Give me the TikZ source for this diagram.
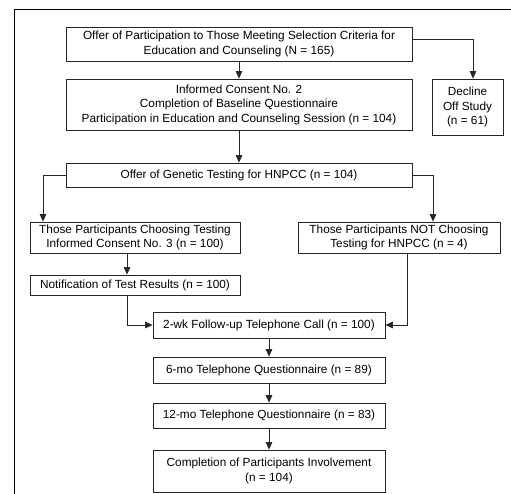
\documentclass[tikz,border=0pt]{standalone}
\usepackage{fontspec}
\setmainfont{Liberation Sans}
\usetikzlibrary{arrows.meta}
\begin{document}
\begin{tikzpicture}[x=1pt,y=-1pt,
  box/.style={draw=black!85, line width=0.75pt, inner sep=1pt, align=center,
    font=\fontsize{11.8}{14.5}\selectfont, anchor=center},
  conn/.style={draw=black!85, line width=0.75pt, -{Triangle[length=7.5pt,width=6.5pt]}},
  plain/.style={draw=black!85, line width=0.75pt}]
\useasboundingbox (0,0) rectangle (511,494);
\begin{scope}
\clip (0,0) rectangle (511,494);
\draw[line width=1pt] (14,10) rectangle (530,520);
\end{scope}
\node[box, minimum width=346pt, minimum height=34pt] (b1) at (239,44)
  {Offer of Participation to Those Meeting Selection Criteria for\\Education and Counseling (N = 165)};
\node[box, minimum width=346pt, minimum height=51pt] (b2) at (239,104.5)
  {Informed Consent No. 2\\Completion of Baseline Questionnaire\\Participation in Education and Counseling Session (n = 104)};
\node[box, minimum width=71pt, minimum height=56pt] (dec) at (467.5,107)
  {Decline\\Off Study\\(n = 61)};
\node[box, minimum width=346pt, minimum height=24pt] (b3) at (239,175)
  {Offer of Genetic Testing for HNPCC (n = 104)};
\node[box, minimum width=210pt, minimum height=31pt] (b4) at (135,237.5)
  {Those Participants Choosing Testing\\Informed Consent No. 3 (n = 100)};
\node[box, minimum width=202pt, minimum height=31pt] (b5) at (399,237.5)
  {Those Participants NOT Choosing\\Testing for HNPCC (n = 4)};
\node[box, minimum width=210pt, minimum height=20pt] (b6) at (135,285)
  {Notification of Test Results (n = 100)};
\node[box, minimum width=232pt, minimum height=26pt] (b7) at (269,325)
  {2-wk Follow-up Telephone Call (n = 100)};
\node[box, minimum width=232pt, minimum height=26pt] (b8) at (269,370)
  {6-mo Telephone Questionnaire (n = 89)};
\node[box, minimum width=232pt, minimum height=25pt] (b9) at (269,415.5)
  {12-mo Telephone Questionnaire (n = 83)};
\node[box, minimum width=232pt, minimum height=42pt] (b10) at (269,471)
  {Completion of Participants Involvement\\(n = 104)};
\coordinate (c1) at (473,39);
\coordinate (c2) at (43,175);
\coordinate (c3) at (433,175);
\coordinate (c4) at (127,325);
\coordinate (c5) at (407,325);
\draw[conn] (b1.south) -- (b2.north);
\draw[conn] (b1.east |- c1) -- (c1) -- (c1 |- dec.north);
\draw[conn] (b2.south) -- (b3.north);
\draw[conn] (b3.west |- c2) -- (c2) -- (c2 |- b4.north);
\draw[conn] (b3.east |- c3) -- (c3) -- (c3 |- b5.north);
\draw[conn] (b4.south -| c4) -- (c4 |- b6.north);
\draw[conn] (b6.south -| c4) -- (c4) -- (b7.west);
\draw[conn] (b5.south -| c5) -- (c5) -- (b7.east);
\draw[conn] (b7.south) -- (b8.north);
\draw[conn] (b8.south) -- (b9.north);
\draw[conn] (b9.south) -- (b10.north);
\end{tikzpicture}
\end{document}
